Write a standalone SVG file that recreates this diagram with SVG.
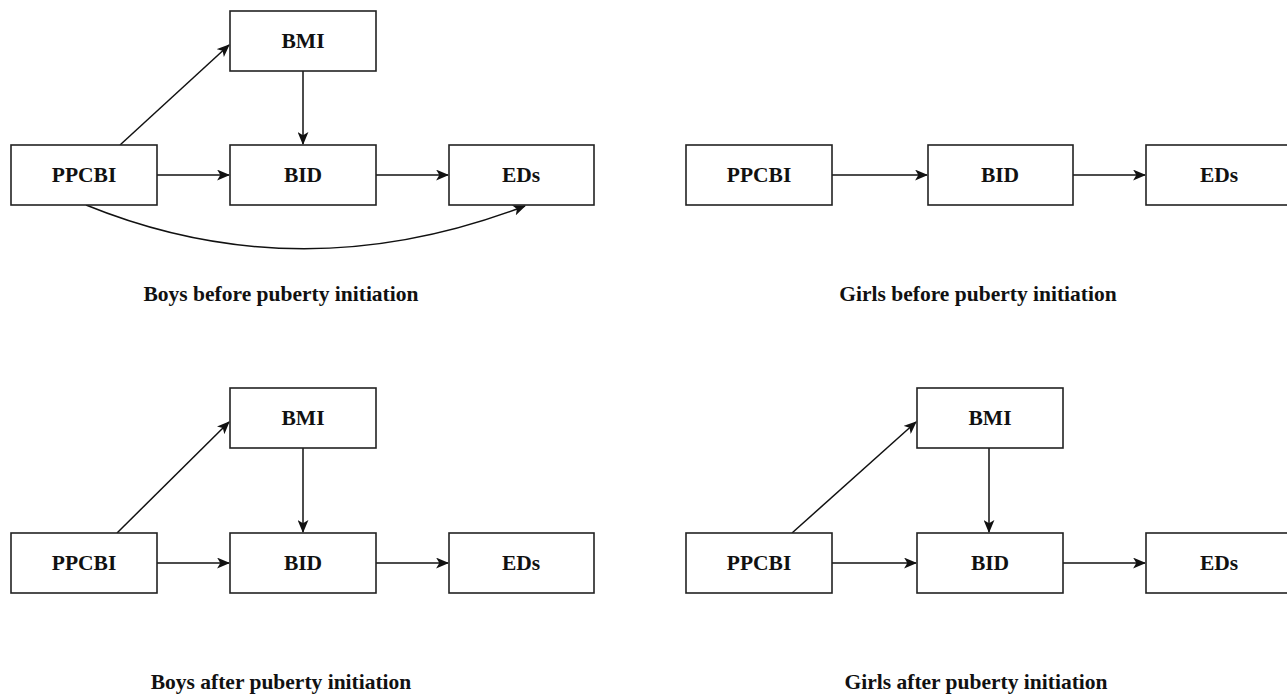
<svg xmlns="http://www.w3.org/2000/svg" width="1287" height="696" viewBox="0 0 1287 696">
<style>
.box{fill:#fff;stroke:#222;stroke-width:1.6}
.t{font-family:"Liberation Serif","Times New Roman",serif;font-weight:bold;font-size:21.5px;fill:#111;text-anchor:middle;dominant-baseline:central}
.cap{font-family:"Liberation Serif","Times New Roman",serif;font-weight:bold;font-size:21.5px;fill:#111;text-anchor:middle}
.c{fill:none;stroke:#111;stroke-width:1.5;marker-end:url(#ah)}
</style>
<defs>
<marker id="ah" viewBox="0 0 12 10" refX="11" refY="5" markerWidth="13" markerHeight="11" markerUnits="userSpaceOnUse" orient="auto">
<path d="M0,0 L12,5 L0,10 L3,5 Z" fill="#111"/>
</marker>
</defs>
<rect width="1287" height="696" fill="#fff"/>
<g id="connectors">
<path class="c" d="M120,145 L229,45"/>
<path class="c" d="M303,71 L303,144"/>
<path class="c" d="M157,175 L229,175"/>
<path class="c" d="M376,175 L448,175"/>
<path class="c" d="M86,205 Q300,292 525,206"/>
<path class="c" d="M832,175 L927,175"/>
<path class="c" d="M1073,175 L1145,175"/>
<path class="c" d="M117,533 L229,422"/>
<path class="c" d="M303,448 L303,532"/>
<path class="c" d="M157,563 L229,563"/>
<path class="c" d="M376,563 L448,563"/>
<path class="c" d="M792,533 L916,422"/>
<path class="c" d="M989,448 L989,532"/>
<path class="c" d="M832,563 L916,563"/>
<path class="c" d="M1063,563 L1145,563"/>
</g>
<g id="bl-bmi"><rect class="box" x="230" y="11" width="146" height="60"/><text class="t" x="303" y="41">BMI</text></g>
<g id="bl-ppcbi"><rect class="box" x="11" y="145" width="146" height="60"/><text class="t" x="84" y="175">PPCBI</text></g>
<g id="bl-bid"><rect class="box" x="230" y="145" width="146" height="60"/><text class="t" x="303" y="175">BID</text></g>
<g id="bl-eds"><rect class="box" x="449" y="145" width="145" height="60"/><text class="t" x="521" y="175">EDs</text></g>
<g id="gb-ppcbi"><rect class="box" x="686" y="145" width="146" height="60"/><text class="t" x="759" y="175">PPCBI</text></g>
<g id="gb-bid"><rect class="box" x="928" y="145" width="145" height="60"/><text class="t" x="1000" y="175">BID</text></g>
<g id="gb-eds"><rect class="box" x="1146" y="145" width="146" height="60"/><text class="t" x="1219" y="175">EDs</text></g>
<g id="ba-bmi"><rect class="box" x="230" y="388" width="146" height="60"/><text class="t" x="303" y="418">BMI</text></g>
<g id="ba-ppcbi"><rect class="box" x="11" y="533" width="146" height="60"/><text class="t" x="84" y="563">PPCBI</text></g>
<g id="ba-bid"><rect class="box" x="230" y="533" width="146" height="60"/><text class="t" x="303" y="563">BID</text></g>
<g id="ba-eds"><rect class="box" x="449" y="533" width="145" height="60"/><text class="t" x="521" y="563">EDs</text></g>
<g id="ga-bmi"><rect class="box" x="917" y="388" width="146" height="60"/><text class="t" x="990" y="418">BMI</text></g>
<g id="ga-ppcbi"><rect class="box" x="686" y="533" width="146" height="60"/><text class="t" x="759" y="563">PPCBI</text></g>
<g id="ga-bid"><rect class="box" x="917" y="533" width="146" height="60"/><text class="t" x="990" y="563">BID</text></g>
<g id="ga-eds"><rect class="box" x="1146" y="533" width="146" height="60"/><text class="t" x="1219" y="563">EDs</text></g>
<g id="captions">
<text class="cap" x="281" y="301">Boys before puberty initiation</text>
<text class="cap" x="978" y="301">Girls before puberty initiation</text>
<text class="cap" x="281" y="689">Boys after puberty initiation</text>
<text class="cap" x="976" y="689">Girls after puberty initiation</text>
</g>
</svg>
